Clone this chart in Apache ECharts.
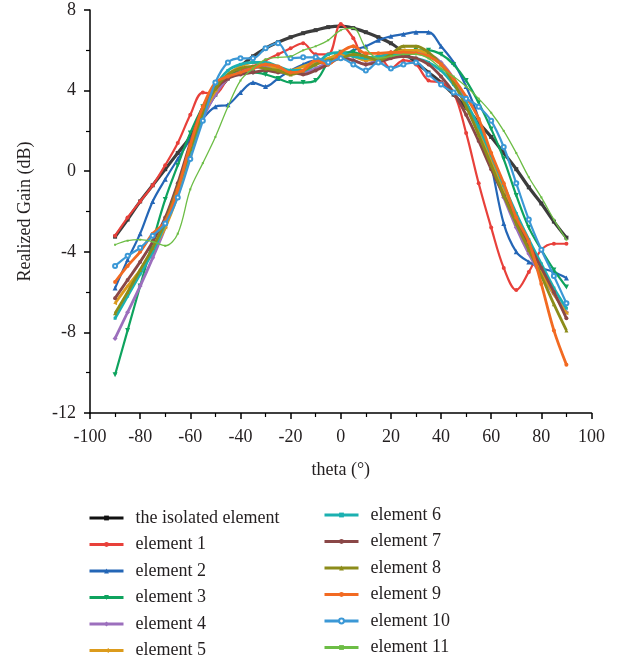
<!DOCTYPE html>
<html>
<head>
<meta charset="utf-8">
<script src="https://cdn.jsdelivr.net/npm/echarts@6/dist/echarts.min.js"></script>
<style>
  html, body { margin: 0; padding: 0; background: #fff; }
  #chart { width: 619px; height: 659px; }
</style>
</head>
<body>
<div id="chart"></div>
<script>
// Scan angle (degrees), sampled every 5°
const theta = [-90,-85,-80,-75,-70,-65,-60,-55,-50,-45,-40,-35,-30,-25,-20,-15,-10,-5,0,5,10,15,20,25,30,35,40,45,50,55,60,65,70,75,80,85,90];

// Realized gain (dB) for each element
const isolated = [-3.25,-2.4,-1.5,-0.7,0.1,0.9,1.7,2.8,3.8,4.6,5.2,5.7,6.1,6.4,6.65,6.85,7.0,7.15,7.2,7.1,6.9,6.65,6.35,5.9,5.4,4.9,4.4,3.8,3.15,2.4,1.7,0.9,0.1,-0.8,-1.6,-2.5,-3.3];
const element1 = [-3.2,-2.3,-1.5,-0.7,0.3,1.4,2.8,3.9,3.85,4.6,5.0,5.2,5.5,5.8,6.1,6.35,5.8,5.8,7.3,6.6,5.5,5.7,5.1,5.5,5.3,4.5,4.4,3.9,1.9,-0.6,-2.8,-4.8,-5.9,-5.0,-3.9,-3.6,-3.6];
const element2 = [-5.8,-4.4,-3.1,-1.5,-0.4,0.6,1.6,2.6,3.2,3.3,3.9,4.4,4.2,4.6,5.0,5.3,5.5,5.5,5.7,6.0,6.2,6.5,6.7,6.8,6.9,6.9,6.2,5.4,4.2,2.6,0.3,-2.6,-4.0,-4.5,-4.8,-5.0,-5.3];
const element3 = [-10.1,-7.9,-5.7,-3.5,-1.4,0.3,1.9,3.2,4.1,4.7,4.9,4.9,4.8,4.6,4.4,4.4,4.5,5.4,5.9,5.9,5.7,5.6,5.7,5.9,6.0,6.0,5.8,5.3,4.5,3.4,2.1,0.6,-1.2,-2.8,-3.9,-4.9,-5.75];
const element4 = [-8.3,-7.0,-5.7,-4.3,-2.8,-0.8,1.0,2.6,3.8,4.6,4.9,5.1,5.2,5.1,4.9,4.9,5.1,5.4,5.7,5.5,5.3,5.6,5.9,5.8,5.9,5.8,5.4,4.6,3.4,1.9,0.3,-1.3,-2.8,-4.1,-5.2,-6.1,-7.0];
const element5 = [-6.55,-5.7,-4.9,-3.9,-2.8,-1.2,0.8,2.7,4.0,4.8,5.2,5.4,5.3,5.1,5.0,5.2,5.4,5.6,5.8,5.7,5.5,5.6,5.8,6.0,6.0,5.8,5.3,4.4,3.3,2.0,0.5,-1.0,-2.5,-3.8,-5.0,-6.1,-7.05];
const element6 = [-7.3,-6.2,-5.1,-4.0,-2.6,-0.9,1.0,2.8,4.2,5.0,5.3,5.4,5.4,5.2,5.0,5.0,5.3,5.8,5.9,5.7,5.6,5.7,5.8,5.7,5.6,5.4,5.0,4.3,3.4,2.2,0.8,-0.7,-2.1,-3.4,-4.6,-5.8,-6.8];
const element7 = [-6.3,-5.4,-4.5,-3.5,-2.3,-0.6,1.4,3.2,4.1,4.6,4.8,4.9,5.0,4.9,4.9,4.8,5.0,5.3,5.6,5.5,5.3,5.4,5.6,5.7,5.6,5.3,4.7,3.9,2.8,1.5,0.1,-1.2,-2.4,-3.6,-4.8,-6.0,-7.3];
const element8 = [-7.05,-6.0,-4.9,-3.8,-2.5,-0.8,1.1,2.9,4.1,4.8,5.1,5.2,5.1,5.0,4.8,5.0,5.3,5.5,5.6,5.8,5.7,5.5,5.8,6.2,6.2,5.9,5.3,4.4,3.2,1.8,0.3,-1.2,-2.6,-3.9,-5.2,-6.6,-7.9];
const element9 = [-5.5,-4.7,-4.0,-3.1,-2.5,-0.9,1.3,3.2,4.4,4.7,4.9,5.1,5.3,5.2,4.9,5.0,5.5,5.3,5.9,6.2,5.85,5.85,5.9,5.9,5.85,5.7,5.3,4.6,3.7,2.6,0.9,-0.6,-2.3,-3.5,-5.6,-7.9,-9.6];
const element10 = [-4.7,-4.2,-3.8,-3.2,-2.6,-1.3,0.6,2.5,4.4,5.4,5.6,5.6,6.1,6.35,5.6,5.65,5.65,5.4,5.6,5.3,5.0,5.4,5.1,5.3,5.4,4.8,4.3,3.9,3.6,3.2,2.5,1.2,-0.6,-2.4,-3.9,-5.2,-6.55];
const element11 = [-3.65,-3.45,-3.4,-3.5,-3.7,-3.1,-0.9,0.4,1.7,3.2,4.5,5.1,5.55,5.65,5.7,6.0,6.2,6.5,7.0,7.1,6.1,5.6,5.7,5.8,5.8,5.6,5.1,4.7,4.2,3.6,2.9,2.0,0.9,-0.3,-1.3,-2.4,-3.4];

// Axis ticks
const xTicks = { min: -100, max: 100, step: 20 };
const yTicks = { min: -12, max: 8, step: 4 };

const names = ['the isolated element','element 1','element 2','element 3','element 4','element 5',
               'element 6','element 7','element 8','element 9','element 10','element 11'];
const values = [isolated, element1, element2, element3, element4, element5,
                element6, element7, element8, element9, element10, element11];

const styles = [
  { color: '#3c3c3c', legend: '#111111', symbol: 'rect',     size: 4,   width: 3.2 },
  { color: '#e8403a', symbol: 'circle',   size: 4,   width: 2.2 },
  { color: '#2466b6', symbol: 'triangle', size: 5,   width: 2.2 },
  { color: '#0ea35e', symbol: 'triangle', size: 5,   width: 2.2, rotate: 180 },
  { color: '#9c6fbd', symbol: 'diamond',  size: 5,   width: 2.8 },
  { color: '#dc9b1c', symbol: 'triangle', size: 4,   width: 2.8, rotate: 90 },
  { color: '#1bb0b0', symbol: 'rect',     size: 3,   width: 2.8 },
  { color: '#8a4747', symbol: 'circle',   size: 4,   width: 2.8 },
  { color: '#8c8c1a', symbol: 'triangle', size: 4,   width: 2.8 },
  { color: '#f26a22', symbol: 'circle',   size: 4,   width: 2.8 },
  { color: '#3b98d6', symbol: 'emptyCircle', size: 4, width: 2.2 },
  { color: '#6cbd45', symbol: 'rect',     size: 2,   width: 1.3 }
];

const FONT = 'Liberation Serif';
const TEXT = '#231f20';

const series = names.map((name, i) => ({
  name,
  type: 'line',
  smooth: 0.35,
  data: theta.map((t, k) => [t, values[i][k]]),
  symbol: styles[i].symbol,
  symbolSize: styles[i].size,
  symbolRotate: styles[i].rotate || 0,
  showSymbol: true,
  lineStyle: { color: styles[i].color, width: styles[i].width },
  itemStyle: { color: styles[i].color },
  emphasis: { disabled: true },
  animation: false,
  z: 2 + i
}));

// Legend entries carry their own icon colours (the isolated element shows black)
const legendData = names.map((name, i) => ({
  name,
  itemStyle: { color: styles[i].legend || styles[i].color },
  lineStyle: { color: styles[i].legend || styles[i].color, width: 3 }
}));

const legendBase = {
  orient: 'vertical',
  itemWidth: 34,
  itemHeight: 6,
  itemGap: 8.5,
  height: 200,
  textStyle: { fontFamily: FONT, fontSize: 18, color: TEXT, padding: [0, 0, 0, 7] },
  selectedMode: false
};

const chart = echarts.init(document.getElementById('chart'), null, { renderer: 'canvas' });
chart.setOption({
  backgroundColor: '#ffffff',
  animation: false,
  grid: { left: 90, right: 27.5, top: 10, bottom: 246 },
  xAxis: {
    type: 'value',
    min: xTicks.min, max: xTicks.max, interval: xTicks.step,
    name: 'theta (°)',
    nameLocation: 'middle',
    nameGap: 48,
    nameTextStyle: { fontFamily: FONT, fontSize: 18, color: TEXT },
    axisLine: { show: true, onZero: false, lineStyle: { color: '#000', width: 1.5 } },
    axisTick: { show: true, length: 6, lineStyle: { color: '#000', width: 1.5 } },
    minorTick: { show: true, splitNumber: 2, length: 4, lineStyle: { color: '#000', width: 1.2 } },
    axisLabel: { fontFamily: FONT, fontSize: 18, color: TEXT, margin: 15 },
    splitLine: { show: false }
  },
  yAxis: {
    type: 'value',
    min: yTicks.min, max: yTicks.max, interval: yTicks.step,
    name: 'Realized Gain (dB)',
    nameLocation: 'middle',
    nameGap: 56,
    nameTextStyle: { fontFamily: FONT, fontSize: 18, color: TEXT },
    axisLine: { show: true, onZero: false, lineStyle: { color: '#000', width: 1.5 } },
    axisTick: { show: true, length: 6, lineStyle: { color: '#000', width: 1.5 } },
    minorTick: { show: true, splitNumber: 2, length: 4, lineStyle: { color: '#000', width: 1.2 } },
    axisLabel: { fontFamily: FONT, fontSize: 18, color: TEXT, margin: 14 },
    splitLine: { show: false }
  },
  legend: [
    Object.assign({}, legendBase, { data: legendData.slice(0, 6), left: 83, top: 504 }),
    Object.assign({}, legendBase, { data: legendData.slice(6), left: 318, top: 501 })
  ],
  series
});
</script>
</body>
</html>
